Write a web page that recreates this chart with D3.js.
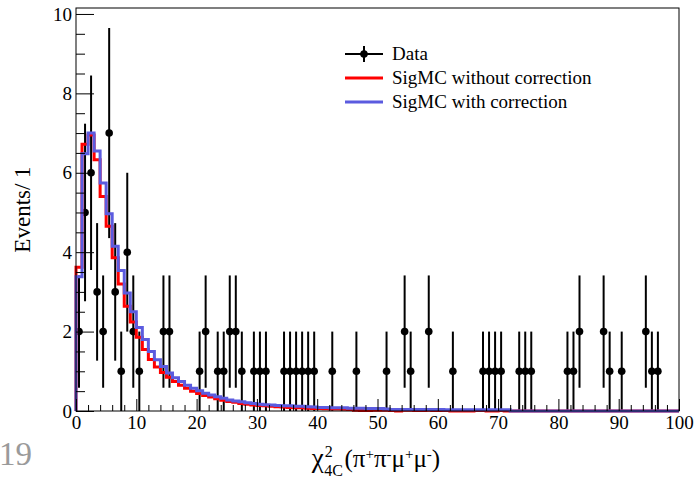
<!DOCTYPE html>
<html>
<head>
<meta charset="utf-8">
<script src="https://cdn.jsdelivr.net/npm/d3@7"></script>
<style>
  html, body { margin: 0; padding: 0; background: #fff; }
  svg { display: block; }
  text { font-family: "Liberation Serif", "Times New Roman", serif; fill: #000; }
</style>
</head>
<body>
<svg id="chart" width="695" height="479"></svg>
<script>
// ---------------- data ----------------
// Data: low edge of each non-empty 1-unit bin and its event count
const dataBins   = [0,1,2,3,4,5,6,7,8,9,10,14,15,20,21,23,24,25,26,27,29,30,31,34,35,36,37,38,39,42,46,51,54,55,58,62,67,68,69,70,73,74,75,81,82,83,87,88,90,94,95,96];
const dataCounts = [2,5,6,3,2,7,3,1,4,2,1,2,2,1,2,1,1,2,2,1,1,1,1,1,1,1,1,1,1,1,1,1,2,1,2,1,1,1,1,1,1,1,1,1,1,2,2,1,1,2,1,1];

// SigMC without correction (red), bins 0..99, width 1
const mcNoCorr = [
  3.62,6.72,6.95,6.33,5.40,4.65,3.86,3.20,2.64,2.24,
  1.86,1.55,1.30,1.11,0.97,0.85,0.74,0.65,0.57,0.50,
  0.44,0.39,0.35,0.31,0.27,0.24,0.22,0.19,0.17,0.15,
  0.14,0.13,0.12,0.11,0.10,0.09,0.085,0.08,0.07,0.065,
  0.06,0.055,0.05,0.05,0.045,0.04,0.02,0.01,0.01,0.02,
  0.02,0.02,0.01,0.0,0.02,0.02,0.01,0.01,0.02,0.01,
  0.01,0.01,0.0,0.0,0.0,0.0,0.01,0.01,0.0,0.0,
  0.01,0.0,0.0,0.0,0.0,0.0,0.0,0.0,0.0,0.0,
  0.0,0.0,0.0,0.0,0.0,0.0,0.0,0.0,0.0,0.0,
  0.0,0.0,0.0,0.0,0.0,0.0,0.0,0.0,0.0,0.0
];
// SigMC with correction (blue), bins 0..99, width 1
const mcCorr = [
  3.38,6.48,7.00,6.55,5.74,4.97,4.15,3.54,2.97,2.50,
  2.10,1.80,1.50,1.29,1.12,0.96,0.84,0.74,0.65,0.57,
  0.51,0.45,0.40,0.36,0.32,0.28,0.25,0.23,0.21,0.19,
  0.17,0.16,0.15,0.14,0.13,0.13,0.12,0.12,0.11,0.10,
  0.09,0.09,0.08,0.08,0.08,0.07,0.07,0.07,0.06,0.06,
  0.06,0.05,0.04,0.04,0.04,0.04,0.04,0.04,0.04,0.04,
  0.04,0.03,0.03,0.03,0.03,0.03,0.03,0.03,0.03,0.03,
  0.03,0.03,0.0,0.0,0.0,0.0,0.0,0.0,0.0,0.0,
  0.0,0.0,0.0,0.0,0.0,0.0,0.0,0.0,0.0,0.0,
  0.0,0.0,0.0,0.0,0.0,0.0,0.0,0.0,0.0,0.0
];

const xMajorTicks = [0,10,20,30,40,50,60,70,80,90,100];
const yMajorTicks = [0,2,4,6,8,10];
const legendLabels = ["Data", "SigMC without correction", "SigMC with correction"];
const yTitle = "Events/ 1";
const cornerLabel = "19";

// ---------------- layout ----------------
const svg = d3.select("#chart");
const L = 76, R = 679, T = 8, B = 411;
const x = d3.scaleLinear().domain([0, 100]).range([L, R]);
const y = d3.scaleLinear().domain([0, 10.15]).range([B, T]);

const xMinor = d3.range(0, 101, 2).filter(v => v % 10 !== 0);
const yMinor = d3.range(0, 10.01, 0.5).filter(v => v % 2 !== 0);

function stepPts(vals) {
  const pts = [[0, 0]];
  vals.forEach((v, i) => pts.push([i, v]));
  pts.push([vals.length, vals[vals.length - 1]]);
  pts.push([vals.length, 0]);
  return pts;
}
const stepLine = d3.line().x(d => x(d[0])).y(d => y(d[1])).curve(d3.curveStepAfter);

const plot = svg.append("g");

// data points with Poisson errors
const dataG = plot.append("g");
dataBins.forEach((b, i) => {
  const n = dataCounts[i], e = Math.sqrt(n), cx = x(b + 0.5);
  dataG.append("line").attr("x1", cx).attr("x2", cx)
    .attr("y1", y(n - e)).attr("y2", y(n + e))
    .attr("stroke", "#000").attr("stroke-width", 2);
  dataG.append("circle").attr("cx", cx).attr("cy", y(n)).attr("r", 3.8).attr("fill", "#000");
});

plot.append("path").attr("d", stepLine(stepPts(mcNoCorr)))
  .attr("fill", "none").attr("stroke", "#ff0000").attr("stroke-width", 3);
plot.append("path").attr("d", stepLine(stepPts(mcCorr)))
  .attr("fill", "none").attr("stroke", "#5b5bdf").attr("stroke-width", 3);

// axes (ticks inward, ROOT style)
svg.append("g").attr("transform", `translate(0,${B})`)
  .call(d3.axisBottom(x).tickValues(xMajorTicks).tickSize(-12).tickPadding(5).tickFormat(d3.format("d")));
svg.append("g").attr("transform", `translate(0,${B})`)
  .call(d3.axisBottom(x).tickValues(xMinor).tickSize(-6).tickFormat(""));
svg.append("g").attr("transform", `translate(${L},0)`)
  .call(d3.axisLeft(y).tickValues(yMajorTicks).tickSize(-18).tickPadding(4).tickFormat(d3.format("d")));
svg.append("g").attr("transform", `translate(${L},0)`)
  .call(d3.axisLeft(y).tickValues(yMinor).tickSize(-9).tickFormat(""));
svg.selectAll(".domain").remove();
svg.selectAll(".tick line").attr("stroke", "#000").attr("stroke-width", 1);
svg.selectAll(".tick text").attr("font-family", "Liberation Serif").attr("font-size", 19).attr("fill", "#000");

// frame
svg.append("rect").attr("x", L).attr("y", T).attr("width", R - L).attr("height", B - T)
  .attr("fill", "none").attr("stroke", "#000").attr("stroke-width", 1);

// legend
const lg = svg.append("g");
const lx1 = 345, lx2 = 383, ltx = 392, ly = [54, 78, 102];
lg.append("line").attr("x1", lx1).attr("x2", lx2).attr("y1", ly[0]).attr("y2", ly[0]).attr("stroke", "#000").attr("stroke-width", 2);
lg.append("line").attr("x1", (lx1 + lx2) / 2).attr("x2", (lx1 + lx2) / 2).attr("y1", ly[0] - 8).attr("y2", ly[0] + 8).attr("stroke", "#000").attr("stroke-width", 2);
lg.append("circle").attr("cx", (lx1 + lx2) / 2).attr("cy", ly[0]).attr("r", 3.8).attr("fill", "#000");
lg.append("line").attr("x1", lx1).attr("x2", lx2).attr("y1", ly[1]).attr("y2", ly[1]).attr("stroke", "#ff0000").attr("stroke-width", 3);
lg.append("line").attr("x1", lx1).attr("x2", lx2).attr("y1", ly[2]).attr("y2", ly[2]).attr("stroke", "#5b5bdf").attr("stroke-width", 3);
legendLabels.forEach((t, i) => {
  lg.append("text").attr("x", ltx).attr("y", ly[i]).attr("dy", "0.34em").attr("font-size", 19).text(t);
});

// y title
svg.append("text").attr("transform", `translate(30,${(T + B) / 2}) rotate(-90)`)
  .attr("text-anchor", "middle").attr("font-size", 23).text(yTitle);

// x title: χ^2_{4C}(π+π-μ+μ-)
const tb = 467;
const tg = svg.append("g");
const chi = tg.append("text").attr("x", 0).attr("y", tb).attr("font-size", 27).text("χ");
const wChi = chi.node().getComputedTextLength();
const sup2 = tg.append("text").attr("x", wChi + 1).attr("y", tb - 10).attr("font-size", 16).text("2");
const sub4 = tg.append("text").attr("x", wChi + 0.5).attr("y", tb + 9).attr("font-size", 16).text("4C");
const wScript = Math.max(sup2.node().getComputedTextLength(), sub4.node().getComputedTextLength());
const tt = tg.append("text").attr("x", wChi + wScript + 2).attr("y", tb).attr("font-size", 25);
[["(π", 0], ["+", 1], ["π", 0], ["-", 1], ["μ", 0], ["+", 1], ["μ", 0], ["-", 1], [")", 0]].forEach(([s, sup]) => {
  tt.append("tspan").attr("font-size", sup ? 15 : 25)
    .attr("baseline-shift", sup ? "55%" : null)
    .text(s);
});
const totalW = wChi + wScript + 2 + tt.node().getComputedTextLength();
tg.attr("transform", `translate(${376 - totalW / 2},0)`);

// corner label
svg.append("text").attr("x", -1).attr("y", 465).attr("font-family", "Roboto, 'DejaVu Sans', sans-serif")
  .attr("font-weight", 300).attr("font-size", 33).style("fill", "#9a9a9a").text(cornerLabel);
</script>
</body>
</html>
